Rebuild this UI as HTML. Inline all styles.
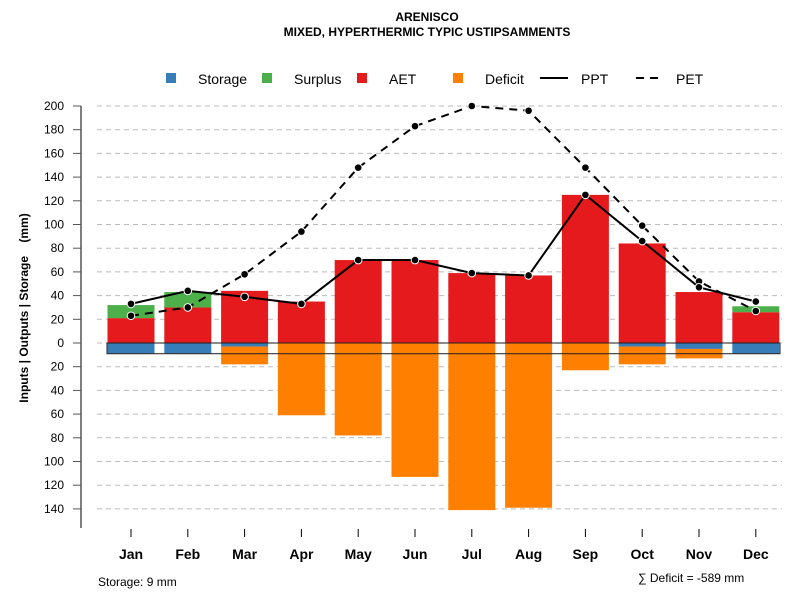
<!DOCTYPE html>
<html><head><meta charset="utf-8">
<style>
html,body{margin:0;padding:0;background:#fff;}
svg{display:block;font-family:"Liberation Sans",Arial,sans-serif;}
</style></head>
<body>
<svg id="chart" width="800" height="600" viewBox="0 0 800 600">
  <text x="427" y="21" text-anchor="middle" font-size="12" font-weight="bold">ARENISCO</text>
  <text x="427" y="36" text-anchor="middle" font-size="12" font-weight="bold">MIXED, HYPERTHERMIC TYPIC USTIPSAMMENTS</text>
  <g id="legend">
    <g><rect x="166" y="73" width="10" height="10" fill="#377EB8"/><text x="198" y="84" font-size="14">Storage</text></g>
    <g><rect x="262" y="73" width="10" height="10" fill="#4DAF4A"/><text x="294" y="84" font-size="14">Surplus</text></g>
    <g><rect x="357" y="73" width="10" height="10" fill="#E41A1C"/><text x="389" y="84" font-size="14">AET</text></g>
    <g><rect x="453" y="73" width="10" height="10" fill="#FF7F00"/><text x="485" y="84" font-size="14">Deficit</text></g>
    <g><line x1="540" y1="78" x2="568" y2="78" stroke="#000" stroke-width="2"/><text x="581" y="84" font-size="14">PPT</text></g>
    <g><line x1="636" y1="78" x2="664" y2="78" stroke="#000" stroke-width="2" stroke-dasharray="8,6"/><text x="676" y="84" font-size="14">PET</text></g>
  </g>
  <g id="grid"></g>
  <g id="yaxis"></g>
  <g id="bars"></g>
  <g id="lines"></g>
  <g id="xaxis"></g>
  <text transform="translate(28,308) rotate(-90)" text-anchor="middle" font-size="12" font-weight="bold">Inputs | Outputs | Storage &#160;&#160;&#160;(mm)</text>
  <text x="98" y="586" font-size="12">Storage: 9 mm</text>
  <text x="638" y="582" font-size="12">∑ Deficit = -589 mm</text>
</svg>
<script>
const months = ["Jan","Feb","Mar","Apr","May","Jun","Jul","Aug","Sep","Oct","Nov","Dec"];
const aet = [21,30,44,35,70,70,59,57,125,84,43,26];
const surplus = [11,13,0,0,0,0,0,0,0,0,0,5];
const storageUse = [9,9,3,0,0,0,0,0,0,3,5,9];
const deficit = [0,0,15,61,78,113,141,139,23,15,8,0];
const ppt = [33,44,39,33,70,70,59,57,125,86,47,35];
const pet = [23,30,58,94,148,183,200,196,148,99,52,27];
const yTicksUp = [0,20,40,60,80,100,120,140,160,180,200];
const yTicksDown = [20,40,60,80,100,120,140];
const storageCap = 9;

const NS = "http://www.w3.org/2000/svg";
const y0 = 343, k = 1.185;
function yS(v){ return y0 - v*k; }
function xS(i){ return 131 + i*56.8; }
const bw = 47;
function mk(tag, attrs, parent){
  const e = document.createElementNS(NS, tag);
  for (const a in attrs) e.setAttribute(a, attrs[a]);
  parent.appendChild(e); return e;
}
const grid = document.getElementById('grid'), yax = document.getElementById('yaxis'),
      bars = document.getElementById('bars'), lines = document.getElementById('lines'),
      xax = document.getElementById('xaxis');

const allTicks = yTicksUp.map(v=>[v,v]).concat(yTicksDown.map(v=>[-v,v]));
allTicks.forEach(([v,lab])=>{
  const y = yS(v);
  const g = mk('line',{x1:97,x2:782,y1:y,y2:y,stroke:'#bbb','stroke-dasharray':'5,4','stroke-width':1},grid);
  
  
  const t = mk('line',{x1:73,x2:81,y1:y,y2:y,stroke:'#555','stroke-width':1},yax);
  
  
  const tx = mk('text',{x:64,y:y+4,'text-anchor':'end','font-size':12},yax);
  tx.textContent = lab;
  
  
});
mk('line',{x1:81,x2:81,y1:yS(200),y2:528,stroke:'#555','stroke-width':1.5},yax);

months.forEach((m,i)=>{
  const x = xS(i)-bw/2;
  const a = mk('rect',{x:x,y:yS(aet[i]),width:bw,height:aet[i]*k,fill:'#E41A1C'},bars);
  
  
  if (surplus[i]>0){
    const s = mk('rect',{x:x,y:yS(aet[i]+surplus[i]),width:bw,height:surplus[i]*k,fill:'#4DAF4A'},bars);
    
    
  }
  if (storageUse[i]>0){
    const s = mk('rect',{x:x,y:y0,width:bw,height:storageUse[i]*k,fill:'#377EB8'},bars);
    
    
  }
  if (deficit[i]>0){
    const d = mk('rect',{x:x,y:yS(-storageUse[i]),width:bw,height:deficit[i]*k,fill:'#FF7F00'},bars);
    
    
  }
  const t = mk('line',{x1:xS(i),x2:xS(i),y1:529,y2:537,stroke:'#000'},xax);
  
  
  const l = mk('text',{x:xS(i),y:559,'text-anchor':'middle','font-size':14,'font-weight':'bold'},xax);
  l.textContent = m;
  
  
});
const box = mk('rect',{x:107,y:y0,width:673,height:storageCap*k,fill:'none',stroke:'#222','stroke-width':1.2,'stroke-opacity':0.85},bars);



function series(vals,name,dash){
  const p = mk('polyline',{points:vals.map((v,i)=>xS(i)+','+yS(v)).join(' '),fill:'none',stroke:'#000','stroke-width':2},lines);
  if (dash) p.setAttribute('stroke-dasharray','8,6');
  
  
  vals.forEach((v,i)=>{
    const c = mk('circle',{cx:xS(i),cy:yS(v),r:3.8,fill:'#000',stroke:'#fff','stroke-width':1},lines);
    
    
  });
}
series(pet,'pet',true);
series(ppt,'ppt',false);
</script>
</body></html>
